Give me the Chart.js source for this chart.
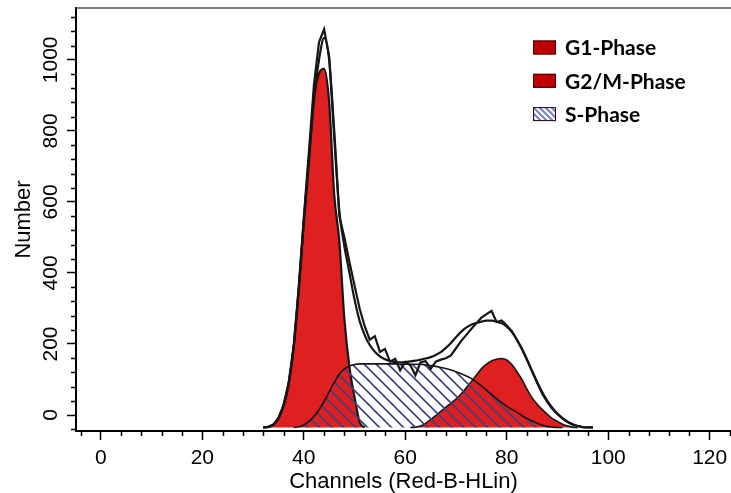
<!DOCTYPE html>
<html>
<head>
<meta charset="utf-8">
<script src="https://cdn.jsdelivr.net/npm/chart.js@4.4.1/dist/chart.umd.min.js"></script>
<style>
  html, body { margin: 0; padding: 0; background: #fff; }
</style>
</head>
<body>
<canvas id="myChart" width="731" height="493"></canvas>
<script>
// channels 32..97
const channels = [
  32, 33, 34, 35, 36, 37, 38, 39, 40, 41, 42, 43, 44, 45, 46, 47, 48, 49, 50, 51, 52,
  53, 54, 55, 56, 57, 58, 59, 60, 61, 62, 63, 64, 65, 66, 67, 68, 69, 70, 71, 72,
  73, 74, 75, 76, 77, 78, 79, 80, 81, 82, 83, 84, 85, 86, 87, 88, 89, 90, 91, 92,
  93, 94, 95, 96, 97
];

// measured histogram (jagged outline)
const histogram = [
  -35, -33, -27, -8, 28, 90, 195, 360, 555, 740, 930, 1050, 1086, 1010, 780, 560, 500, 430, 365, 300, 250,
  212, 222, 178, 186, 150, 158, 126, 150, 140, 112, 148, 152, 130, 150, 156, 160, 168, 188, 208, 225,
  242, 258, 274, 284, 293, 262, 266, 252, 236, 212, 186, 155, 122, 90, 60, 36, 17, 2, -10, -20,
  -27, -31, -34, -35, -35
];

// model sum (smoother outline)
const modelSum = [
  -35, -33, -27, -9, 27, 88, 192, 356, 548, 725, 885, 1000, 1062, 1000, 800, 575, 475, 400, 325, 265, 225,
  197, 178, 165, 157, 152, 149, 148, 149, 151, 153, 156, 159, 163, 169, 177, 189, 203, 219, 234, 246,
  254, 259, 263, 266, 266, 263, 258, 249, 234, 212, 186, 156, 124, 93, 64, 40, 20, 4, -9, -19,
  -26, -31, -34, -35, -35
];

const g1Phase = [
  -35, -34, -28, -10, 25, 85, 190, 350, 540, 710, 890, 962, 975, 880, 620, 490, 270, 134, 50, -20, -35,
  null, null, null, null, null, null, null, null, null, null, null, null, null, null, null, null, null, null, null, null,
  null, null, null, null, null, null, null, null, null, null, null, null, null, null, null, null, null, null, null, null,
  null, null, null, null, null
];

const sPhase = [
  null, null, null, null, null, null, -35, -33, -28, -18, -4, 15, 38, 65, 92, 115, 130, 138, 142, 144, 144,
  144, 144, 144, 144, 144, 144, 143, 143, 143, 143, 143, 141, 139, 137, 134, 131, 127, 122, 116, 110,
  103, 93, 82, 70, 58, 46, 35, 25, 16, 8, -2, -10, -17, -23, -28, -32, -34, -35, -35, null,
  null, null, null, null, null
];

const g2Phase = [
  null, null, null, null, null, null, null, null, null, null, null, null, null, null, null, null, null, null, null, null, null,
  null, null, null, null, null, null, null, null, -35, -34, -31, -24, -13, -2, 10, 22, 33, 45, 59, 76,
  94, 112, 130, 143, 152, 157, 159, 155, 142, 122, 100, 72, 48, 30, 15, 2, -10, -18, -26, -31,
  -34, -35, null, null, null
];

const baseline = -35;
const xTicks = [0, 20, 40, 60, 80, 100, 120];
const yTicks = [0, 200, 400, 600, 800, 1000];
const legendLabels = ['G1-Phase', 'G2/M-Phase', 'S-Phase'];

const red = '#df2020';
const outline = '#161616';

function hatch(color, size, width) {
  const c = document.createElement('canvas');
  c.width = c.height = size;
  const g = c.getContext('2d');
  g.strokeStyle = color;
  g.lineWidth = width;
  g.beginPath();
  g.moveTo(-2, -2); g.lineTo(size + 2, size + 2);
  g.moveTo(-2, size - 2); g.lineTo(2, size + 2);
  g.moveTo(size - 2, -2); g.lineTo(size + 2, 2);
  g.stroke();
  return g.createPattern(c, 'repeat');
}

const ctx = document.getElementById('myChart').getContext('2d');
const sHatch = hatch('#3e4180', 12, 1.6);

function pts(arr) {
  return channels.map((c, i) => ({ x: c, y: arr[i] }));
}

const extras = {
  id: 'extras',
  afterDraw(chart) {
    const { ctx, chartArea: a, scales: { x, y } } = chart;
    ctx.save();
    // minor ticks
    ctx.strokeStyle = '#000';
    ctx.lineWidth = 1.5;
    ctx.beginPath();
    for (let v = -4; v <= 124; v += 4) {
      if (v % 20 === 0) continue;
      const px = Math.round(x.getPixelForValue(v)) + 0.5;
      ctx.moveTo(px, a.bottom);
      ctx.lineTo(px, a.bottom + 5);
    }
    for (let v = -40; v <= 1120; v += 40) {
      if (v % 200 === 0) continue;
      const py = Math.round(y.getPixelForValue(v)) + 0.5;
      ctx.moveTo(a.left, py);
      ctx.lineTo(a.left - 5, py);
    }
    ctx.stroke();
    // top frame
    ctx.strokeStyle = '#555';
    ctx.lineWidth = 1.3;
    ctx.beginPath();
    ctx.moveTo(a.left, a.top);
    ctx.lineTo(a.right, a.top);
    ctx.stroke();
    // legend
    const legendHatch = hatch('#6e7ed2', 6, 2);
    const fills = ['#c00000', '#c00000', legendHatch];
    ctx.font = 'bold 21px Lato';
    ctx.textBaseline = 'middle';
    legendLabels.forEach((label, i) => {
      const cy = 47.5 + i * 33.3;
      ctx.fillStyle = '#fff';
      ctx.fillRect(533, cy - 7, 23, 14);
      ctx.fillStyle = fills[i];
      ctx.fillRect(533, cy - 7, 23, 14);
      ctx.strokeStyle = '#3a0000';
      ctx.lineWidth = 1;
      ctx.strokeRect(533.5, cy - 6.5, 22, 13);
      ctx.fillStyle = '#000';
      ctx.fillText(label, 565, cy + 1);
    });
    ctx.restore();
  }
};

new Chart(ctx, {
  type: 'line',
  data: {
    datasets: [
      {
        label: 'Histogram',
        data: pts(histogram),
        borderColor: outline,
        borderWidth: 2.2,
        fill: false,
        tension: 0,
        pointRadius: 0,
        order: 0
      },
      {
        label: 'Model',
        data: pts(modelSum),
        borderColor: outline,
        borderWidth: 2.2,
        fill: false,
        cubicInterpolationMode: 'monotone',
        pointRadius: 0,
        order: 1
      },
      {
        label: 'S-Phase',
        data: pts(sPhase),
        borderColor: outline,
        borderWidth: 1.6,
        backgroundColor: sHatch,
        fill: { value: baseline },
        cubicInterpolationMode: 'monotone',
        pointRadius: 0,
        order: 2
      },
      {
        label: 'G1-Phase',
        data: pts(g1Phase),
        borderColor: outline,
        borderWidth: 2.2,
        backgroundColor: red,
        fill: { value: baseline },
        cubicInterpolationMode: 'monotone',
        pointRadius: 0,
        order: 3
      },
      {
        label: 'G2/M-Phase',
        data: pts(g2Phase),
        borderColor: outline,
        borderWidth: 1.6,
        backgroundColor: red,
        fill: { value: baseline },
        cubicInterpolationMode: 'monotone',
        pointRadius: 0,
        order: 3
      }
    ]
  },
  options: {
    responsive: false,
    animation: false,
    devicePixelRatio: 1,
    layout: { padding: { top: 8, right: 0, bottom: 0, left: 0 } },
    plugins: {
      legend: { display: false },
      tooltip: { enabled: false }
    },
    scales: {
      x: {
        type: 'linear',
        min: -4.9,
        max: 124.2,
        afterBuildTicks: s => { s.ticks = xTicks.map(v => ({ value: v })); },
        afterFit: s => { s.height = 62; s.paddingLeft = 0; s.paddingRight = 0; },
        grid: { drawOnChartArea: false, tickLength: 9, tickColor: '#000', tickWidth: 1.5 },
        border: { color: '#000', width: 2 },
        ticks: {
          autoSkip: false,
          maxRotation: 0,
          padding: 6,
          color: '#000',
          font: { family: 'Liberation Sans', size: 21 },
          callback: v => String(v)
        },
        title: {
          display: true,
          text: 'Channels (Red-B-HLin)',
          color: '#000',
          font: { family: 'Liberation Sans', size: 22, lineHeight: 1.0 },
          padding: { top: 0, bottom: 0 }
        }
      },
      y: {
        type: 'linear',
        min: -45,
        max: 1146,
        afterBuildTicks: s => { s.ticks = yTicks.map(v => ({ value: v })); },
        afterFit: s => { s.width = 76; s.paddingTop = 0; s.paddingBottom = 0; },
        grid: { drawOnChartArea: false, tickLength: 9, tickColor: '#000', tickWidth: 1.5 },
        border: { color: '#000', width: 2 },
        ticks: {
          minRotation: 90,
          crossAlign: 'center',
          padding: -8,
          color: '#000',
          font: { family: 'Liberation Sans', size: 21 },
          callback: v => String(v)
        },
        title: {
          display: true,
          text: 'Number',
          color: '#000',
          font: { family: 'Liberation Sans', size: 22, lineHeight: 1.0 },
          padding: { top: 13, bottom: 0 }
        }
      }
    }
  },
  plugins: [extras]
});
</script>
</body>
</html>
